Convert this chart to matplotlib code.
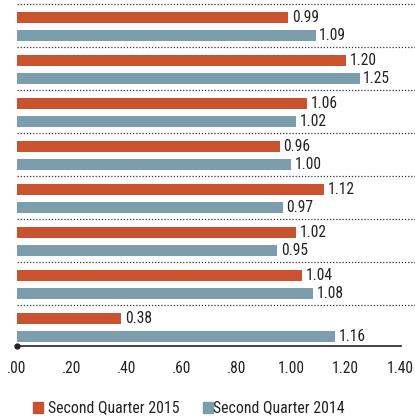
import matplotlib.pyplot as plt
import numpy as np

# values for each group, top to bottom
q2_2015 = [0.99, 1.20, 1.06, 0.96, 1.12, 1.02, 1.04, 0.38]
q2_2014 = [1.09, 1.25, 1.02, 1.00, 0.97, 0.95, 1.08, 1.16]
tick_vals = [0.0, 0.2, 0.4, 0.6, 0.8, 1.0, 1.2, 1.4]
tick_labels = ['.00', '.20', '.40', '.60', '.80', '1.00', '1.20', '1.40']

red = '#C9532F'
blue = '#7B9DAC'
plt.rcParams['font.family'] = ['Roboto Condensed', 'DejaVu Sans']

fig = plt.figure(figsize=(4.15, 4.19), dpi=100)
ax = fig.add_axes([17 / 415, 73 / 419, 398 / 415, 346 / 419])

n = len(q2_2015)
groups = np.arange(n)
h = 0.26

ax.barh(groups + 0.31, q2_2015, height=h, color=red, zorder=2)
ax.barh(groups + 0.73, q2_2014, height=h, color=blue, zorder=2)

for k in range(n):
    ax.text(q2_2015[k] + 0.013, k + 0.32, f'{q2_2015[k]:.2f}', va='center', ha='left',
            fontsize=11.2, color='#222222')
    ax.text(q2_2014[k] + 0.013, k + 0.74, f'{q2_2014[k]:.2f}', va='center', ha='left',
            fontsize=11.2, color='#222222')
    # dotted separator above each group
    ax.axhline(k, color='#333333', lw=0.9, ls=(0, (1, 1.5)), zorder=1)

xmax = 398 / 274
ax.set_xlim(0, xmax)
ax.set_ylim(7.95, -0.093)

for side in ['top', 'right', 'left']:
    ax.spines[side].set_visible(False)
ax.spines['bottom'].set_bounds(0, 1.40)
ax.spines['bottom'].set_linewidth(1.2)
ax.spines['bottom'].set_color('#222222')
ax.plot(0, 7.95, 'o', color='#222222', ms=3.5, clip_on=False, zorder=5)

ax.set_yticks([])
ax.set_xticks(tick_vals)
ax.set_xticklabels(tick_labels, fontsize=11.2, color='#222222')
ax.tick_params(axis='x', length=0, pad=11)

# legend drawn by hand in figure coords
fig.patches.append(plt.Rectangle((33 / 415, 1 - 413 / 419), 10 / 415, 11 / 419,
                                 transform=fig.transFigure, color=red))
fig.text(48 / 415, 1 - 408 / 419, 'Second Quarter 2015', va='center', ha='left',
         fontsize=11.4, color='#222222')
fig.patches.append(plt.Rectangle((203 / 415, 1 - 413 / 419), 10 / 415, 11 / 419,
                                 transform=fig.transFigure, color=blue))
fig.text(213 / 415, 1 - 408 / 419, 'Second Quarter 2014', va='center', ha='left',
         fontsize=11.4, color='#222222')

fig.savefig('out.png', dpi=100)
